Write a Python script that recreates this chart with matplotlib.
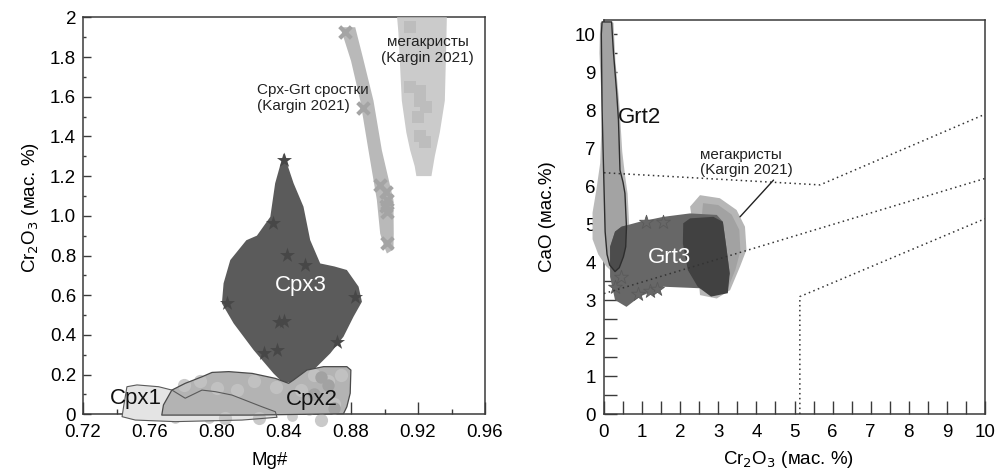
import matplotlib
matplotlib.use("Agg")
import matplotlib.pyplot as plt
from matplotlib.patches import Polygon
import numpy as np

plt.rcParams['font.family'] = ['Liberation Sans', 'DejaVu Sans']

# ---------------- LEFT PANEL DATA (Mg#, Cr2O3) ----------------
mega_L_x = [0.9075, 0.9083, 0.9103, 0.9130, 0.9153, 0.9180, 0.9190, 0.9280, 0.9300, 0.9330, 0.9360, 0.9370, 0.9372]
mega_L_y = [2.00, 1.92, 1.58, 1.42, 1.33, 1.25, 1.20, 1.20, 1.30, 1.42, 1.58, 1.92, 2.00]
mega_sq_x = [0.9150, 0.9154, 0.9213, 0.9213, 0.9250, 0.9213, 0.9240, 0.9200]
mega_sq_y = [1.95, 1.65, 1.63, 1.58, 1.55, 1.40, 1.37, 1.50]

band_x = [0.8736, 0.8800, 0.8855, 0.8904, 0.8954, 0.8974, 0.9000, 0.9014, 0.9053, 0.9055, 0.9053, 0.8984, 0.8934, 0.8870, 0.8825]
band_y = [1.95, 1.78, 1.58, 1.33, 1.08, 0.91, 0.84, 0.81, 0.83, 0.91, 1.08, 1.33, 1.58, 1.80, 1.95]
band_X_x = [0.8765, 0.8874, 0.8974, 0.9010, 0.9014, 0.9010, 0.9014, 0.9014]
band_X_y = [1.927, 1.541, 1.155, 1.12, 1.08, 1.05, 1.02, 0.863]

cpx3_x = [0.8397, 0.8457, 0.8516, 0.8556, 0.8616, 0.8700, 0.8775, 0.8845, 0.8865, 0.8815, 0.8755, 0.8676, 0.8576,
          0.8457, 0.8397, 0.8337, 0.8218, 0.8099, 0.8029, 0.8039, 0.8079, 0.8175, 0.8238, 0.8318, 0.8347]
cpx3_y = [1.315, 1.164, 1.046, 0.878, 0.76, 0.745, 0.727, 0.643, 0.567, 0.492, 0.391, 0.307, 0.223,
          0.164, 0.156, 0.206, 0.324, 0.458, 0.559, 0.66, 0.777, 0.877, 0.90, 0.995, 1.164]
cpx3_star_x = [0.8397, 0.8337, 0.8417, 0.8527, 0.8059, 0.8370, 0.8400, 0.8278, 0.8357, 0.8715, 0.8825]
cpx3_star_y = [1.281, 0.962, 0.803, 0.752, 0.559, 0.467, 0.470, 0.307, 0.324, 0.366, 0.592]

cpx1_x = [0.7433, 0.7442, 0.7462, 0.7522, 0.7651, 0.7731, 0.7810, 0.7910, 0.7990, 0.8089, 0.8268, 0.8348,
          0.8358, 0.8149, 0.7750, 0.7512]
cpx1_y = [-0.012, 0.038, 0.139, 0.148, 0.139, 0.122, 0.081, 0.122, 0.114, 0.097, 0.038, 0.013,
          -0.015, -0.029, -0.037, -0.029]

cpx2_x = [0.7670, 0.7680, 0.7730, 0.7810, 0.7910, 0.7970, 0.8070, 0.8210, 0.8348, 0.8427, 0.8457, 0.8537,
          0.8636, 0.8775, 0.8799, 0.8795, 0.8775, 0.8755, 0.8200]
cpx2_y = [-0.004, 0.047, 0.122, 0.156, 0.189, 0.211, 0.215, 0.206, 0.181, 0.156, 0.173, 0.223,
          0.240, 0.240, 0.223, 0.106, 0.038, 0.003, -0.004]
cpx_pts_x = [0.800, 0.812, 0.822, 0.835, 0.850, 0.858, 0.866, 0.874, 0.862, 0.870, 0.790, 0.780, 0.805, 0.825,
             0.845, 0.855, 0.815, 0.795, 0.775, 0.765, 0.760]
cpx_pts_y = [0.13, 0.12, 0.17, 0.14, 0.12, 0.20, 0.17, 0.20, -0.03, 0.05, 0.17, 0.15, -0.02, -0.02,
             -0.01, 0.02, 0.00, -0.02, -0.02, 0.10, 0.05]
cpx_dark_x = [0.858, 0.866, 0.870, 0.862]
cpx_dark_y = [0.10, 0.15, 0.03, 0.19]

# ---------------- RIGHT PANEL DATA (Cr2O3, CaO) ----------------
grt2_x = [-0.05, 0.20, 0.25, 0.33, 0.38, 0.42, 0.50, 0.55, 0.59, 0.57, 0.51, 0.40, 0.29, 0.15, 0.08, 0.03, 0.00, -0.05, -0.07]
grt2_y = [10.32, 10.32, 9.5, 8.5, 7.74, 6.42, 6.10, 5.81, 4.93, 4.40, 4.14, 3.85, 3.75, 3.92, 4.20, 4.80, 6.0, 8.0, 10.0]
grt2_halo_x = [-0.10, 0.25, 0.30, 0.40, 0.48, 0.55, 0.62, 0.66, 0.60, 0.45, 0.25, 0.05, -0.15, -0.30, -0.30, -0.20, -0.10, -0.05, -0.12]
grt2_halo_y = [10.30, 10.30, 9.3, 8.2, 6.9, 6.3, 5.8, 5.0, 4.3, 3.9, 3.7, 3.9, 4.2, 4.6, 5.3, 5.9, 6.6, 8.0, 9.5]

grt3_x = [0.46, 0.94, 1.56, 2.26, 2.96, 3.12, 3.21, 3.30, 3.17, 2.52, 1.56, 0.94, 0.59, 0.29, 0.16, 0.16, 0.29]
grt3_y = [4.93, 5.06, 5.19, 5.28, 5.24, 5.06, 4.40, 3.70, 3.22, 3.31, 3.35, 3.09, 2.82, 3.00, 3.61, 4.40, 4.80]
grt3_dark_x = [2.08, 2.26, 2.87, 3.12, 3.21, 3.30, 3.25, 2.81, 2.46, 2.20, 2.07]
grt3_dark_y = [5.02, 5.15, 5.19, 5.06, 4.40, 3.70, 3.18, 3.09, 3.35, 3.79, 4.49]
megaR_x = [2.26, 2.52, 3.04, 3.48, 3.70, 3.74, 3.57, 3.31, 2.96, 2.52, 2.40]
megaR_y = [5.46, 5.76, 5.68, 5.37, 4.93, 4.32, 3.88, 3.26, 3.04, 3.13, 4.50]
megaR_in_x = [2.60, 3.00, 3.35, 3.55, 3.58, 3.45, 3.25, 2.90, 2.50]
megaR_in_y = [5.55, 5.50, 5.25, 4.85, 4.30, 3.80, 3.30, 3.15, 4.50]
grt3_star_x = [1.10, 1.55, 0.45, 0.30, 1.20, 1.40, 0.90]
grt3_star_y = [5.05, 5.05, 3.60, 3.35, 3.25, 3.28, 3.15]

line1_x = [0.0, 5.67, 10.0]
line1_y = [6.35, 6.03, 7.89]
line2_x = [0.0, 10.0]
line2_y = [3.17, 6.20]
line3_x = [5.14, 5.14, 10.0]
line3_y = [0.0, 3.09, 5.14]

# ---------------- FIGURE ----------------
fig = plt.figure(figsize=(9.97, 4.73), dpi=100)
fig.patch.set_facecolor('white')
axL = fig.add_axes([0.0833, 0.1241, 0.4032, 0.8393])
axR = fig.add_axes([0.6058, 0.1247, 0.3822, 0.8330])

spine_c = '#3a3a3a'
tick_fs = 13.5
for ax in (axL, axR):
    for s in ax.spines.values():
        s.set_color(spine_c)
        s.set_linewidth(1.1)
        s.set_zorder(1)
    ax.set_facecolor('white')

def poly(ax, xs, ys, fc, ec='none', lw=0.0, z=2, clip=False, alpha=1.0):
    p = Polygon(np.column_stack([xs, ys]), closed=True, facecolor=fc, edgecolor=ec,
                linewidth=lw, zorder=z, alpha=alpha, joinstyle='round')
    p.set_clip_on(clip)
    ax.add_patch(p)
    return p

# ---- left panel ----
axL.set_xlim(0.72, 0.96)
axL.set_ylim(0, 2)
poly(axL, mega_L_x, mega_L_y, '#cbcbcb', z=2, clip=True)
axL.scatter(mega_sq_x, mega_sq_y, marker='s', s=70, color='#bdbdbd', zorder=3, linewidths=0)
poly(axL, band_x, band_y, '#b9b9b9', z=2)
axL.scatter(band_X_x, band_X_y, marker='x', s=70, color='#a4a4a4', linewidths=3.0, zorder=3)
poly(axL, cpx3_x, cpx3_y, '#5b5b5b', z=2)
axL.scatter(cpx3_star_x, cpx3_star_y, marker='*', s=130, color='#474747', zorder=3, linewidths=0)
poly(axL, cpx1_x, cpx1_y, '#e4e4e4', z=4)
axL.scatter(cpx_pts_x[14:], cpx_pts_y[14:], marker='o', s=60, color='#cdcdcd', zorder=3.5, linewidths=0, clip_on=False)
poly(axL, cpx2_x, cpx2_y, '#b3b3b3', z=5)
axL.scatter(cpx_pts_x[:14], cpx_pts_y[:14], marker='o', s=90, color='#c3c3c3', zorder=5.5, linewidths=0, clip_on=False, alpha=0.9)
axL.scatter(cpx_dark_x, cpx_dark_y, marker='o', s=80, color='#a2a2a2', zorder=5.6, linewidths=0, clip_on=False)
poly(axL, cpx2_x, cpx2_y, 'none', ec='#4a4a4a', lw=0.9, z=7)
poly(axL, cpx1_x, cpx1_y, 'none', ec='#5a5a5a', lw=0.8, z=7)

axL.set_xticks(np.arange(0.72, 0.961, 0.04))
axL.set_xticklabels(['0.72', '0.76', '0.80', '0.84', '0.88', '0.92', '0.96'])
axL.set_xticks(np.arange(0.72, 0.961, 0.02), minor=True)
axL.set_yticks(np.arange(0, 2.01, 0.2))
axL.set_yticklabels(['0', '0.2', '0.4', '0.6', '0.8', '1.0', '1.2', '1.4', '1.6', '1.8', '2'])
axL.set_yticks(np.arange(0, 2.01, 0.1), minor=True)
axL.tick_params(axis='x', which='major', direction='in', length=8.5, width=1, color=spine_c,
                labelsize=tick_fs, pad=7)
axL.tick_params(axis='x', which='minor', direction='in', length=3.5, width=1, color=spine_c)
axL.tick_params(axis='y', which='major', direction='in', length=6, width=1, color=spine_c,
                labelsize=tick_fs, pad=5)
axL.tick_params(axis='y', which='minor', direction='in', length=2.5, width=1, color=spine_c)
axL.set_xlabel('Mg#', fontsize=13.5)
axL.xaxis.set_label_coords(0.463, -0.095)
axL.set_ylabel('Cr$_2$O$_3$ (мас. %)', fontsize=13.5)
axL.yaxis.set_label_coords(-0.105, 0.52)

axL.text(0.7518, 0.082, 'Cpx1', fontsize=16, ha='center', va='center', color='#111111', zorder=8)
axL.text(0.8566, 0.077, 'Cpx2', fontsize=16, ha='center', va='center', color='#111111', zorder=8)
axL.text(0.8501, 0.651, 'Cpx3', fontsize=16, ha='center', va='center', color='white', zorder=8)
axL.text(0.8238, 1.594, 'Cpx-Grt сростки\n(Kargin 2021)', fontsize=11, ha='left', va='center',
         color='#222222', zorder=8, linespacing=1.15)
axL.text(0.9257, 1.835, 'мегакристы\n(Kargin 2021)', fontsize=11, ha='center', va='center',
         color='#222222', zorder=8, linespacing=1.15)

# ---- right panel ----
axR.set_xlim(0, 10)
axR.set_ylim(0, 10.37)
poly(axR, grt2_halo_x, grt2_halo_y, '#bababa', z=2)
poly(axR, megaR_x, megaR_y, '#b6b6b6', z=2)
poly(axR, megaR_in_x, megaR_in_y, '#a2a2a2', z=2.1)
g2 = poly(axR, grt2_x, grt2_y, '#a3a3a3', z=3)
g3 = poly(axR, grt3_x, grt3_y, '#676767', z=4)
gd = poly(axR, grt3_dark_x, grt3_dark_y, '#414141', z=4.5)
ov = poly(axR, grt2_x, grt2_y, '#4c4c4c', z=4.6)
ov.set_clip_on(True)
ov.set_clip_path(g3)
axR.scatter(grt3_star_x, grt3_star_y, marker='*', s=110, facecolor='#676767', edgecolor='#5a5a5a',
            linewidths=0.6, zorder=4.2)
poly(axR, grt2_x, grt2_y, 'none', ec='#2e2e2e', lw=1.0, z=6)

for lx, ly in ((line1_x, line1_y), (line2_x, line2_y), (line3_x, line3_y)):
    axR.plot(lx, ly, linestyle=(0, (1, 2.2)), color='#333333', linewidth=1.1, zorder=7)

axR.annotate('мегакристы\n(Kargin 2021)', xy=(3.57, 5.19), xytext=(2.52, 6.62),
             fontsize=11, ha='left', va='center', color='#222222', linespacing=1.15, zorder=8,
             arrowprops=dict(arrowstyle='-', color='#222222', lw=1.0, shrinkA=0, shrinkB=0,
                             relpos=(0.82, 0.0)))
axR.text(0.37, 7.8, 'Grt2', fontsize=16, ha='left', va='center', color='#111111', zorder=8)
axR.text(1.73, 4.12, 'Grt3', fontsize=16, ha='center', va='center', color='white', zorder=8)

axR.set_xticks(np.arange(0, 10.01, 1))
axR.set_xticklabels([str(i) for i in range(11)])
axR.set_xticks(np.arange(0, 10.01, 0.5), minor=True)
axR.set_yticks(np.arange(0, 10.01, 1))
axR.set_yticklabels([str(i) for i in range(11)])
axR.set_yticks(np.arange(0, 10.01, 0.5), minor=True)
axR.tick_params(axis='both', which='both', direction='in', length=9.5, width=1, color=spine_c)
axR.tick_params(axis='x', which='major', labelsize=tick_fs, pad=7)
axR.tick_params(axis='y', which='major', labelsize=tick_fs, pad=6)
axR.set_xlabel('Cr$_2$O$_3$ (мас. %)', fontsize=13.5)
axR.xaxis.set_label_coords(0.485, -0.09)
axR.set_ylabel('CaO (мас.%)', fontsize=13.5)
axR.yaxis.set_label_coords(-0.125, 0.5)

fig.savefig('out.png', dpi=100, facecolor='white')
